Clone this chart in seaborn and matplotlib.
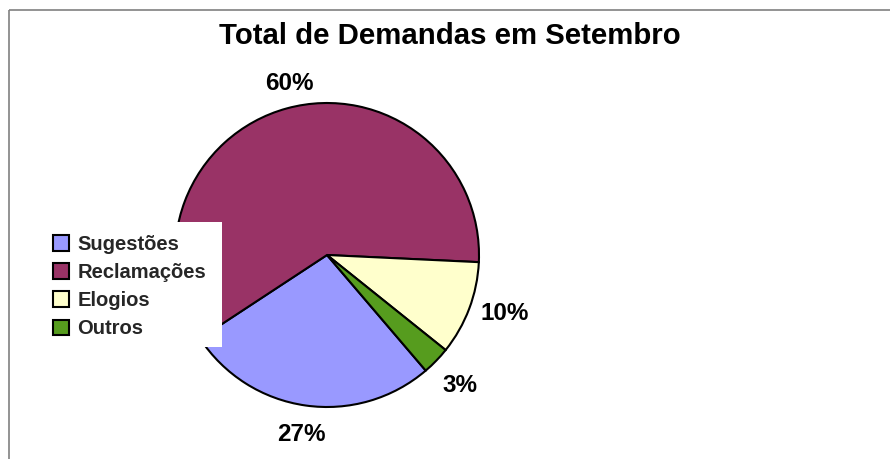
import numpy as np
import matplotlib
matplotlib.use("Agg")
import matplotlib.pyplot as plt
import seaborn as sns
from matplotlib.patches import Rectangle
from matplotlib.lines import Line2D

sns.set_theme(style="white")
plt.rcParams['font.family'] = ['Liberation Sans', 'DejaVu Sans']

categories = ["Sugestões", "Reclamações", "Elogios", "Outros"]
values = [27, 60, 10, 3]
colors = ["#9999FF", "#993366", "#FFFFCC", "#569C1E"]
title = "Total de Demandas em Setembro"

# label placement tuning (radius factor, angle shift in degrees)
label_dist = [1.18, 1.165, 1.23, 1.22]
label_shift = [0, -3, 3, 0]

W, H = 890, 459
fig = plt.figure(figsize=(W / 100, H / 100), dpi=100)
fig.patch.set_facecolor("white")
fig.patch.set_edgecolor("white")
fig.patch.set_linewidth(0)

cx, cy, r = 327, 255, 152
ax = fig.add_axes([(cx - r) / W, (H - cy - r) / H, 2 * r / W, 2 * r / H])
wedges, texts, autotexts = ax.pie(
    values, colors=colors, startangle=-49.5, counterclock=False,
    autopct=lambda p: f"{p:.0f}%", pctdistance=1.2,
    wedgeprops=dict(edgecolor="black", linewidth=1.5),
    textprops=dict(fontsize=17.5, fontweight="bold", color="black"),
)
for w, t, d, s in zip(wedges, autotexts, label_dist, label_shift):
    mid = np.deg2rad((w.theta1 + w.theta2) / 2 + s)
    t.set_position((d * np.cos(mid), d * np.sin(mid) - 0.01))
ax.set_xlim(-1, 1)
ax.set_ylim(-1, 1)
ax.set_aspect("equal")
ax.axis("off")

# chart frame: left and top edges (right/bottom are cut off in the reference)
fig.add_artist(Line2D([8.5 / W, 8.5 / W], [-0.01, 1 - 9.5 / H],
                      transform=fig.transFigure, color="#808080", linewidth=1.2,
                      zorder=0, solid_capstyle="butt", clip_on=False))
fig.add_artist(Line2D([8.5 / W, 1.0], [1 - 9.5 / H, 1 - 9.5 / H],
                      transform=fig.transFigure, color="#808080", linewidth=1.2,
                      zorder=0, solid_capstyle="butt", clip_on=False))

fig.text(450 / W, 1 - 36.5 / H, title, ha="center", va="center",
         fontsize=21.2, fontweight="bold", color="black")

# legend white background
fig.add_artist(Rectangle((20 / W, 1 - 347 / H), (222 - 20) / W, (347 - 222) / H,
                         transform=fig.transFigure, facecolor="white",
                         edgecolor="none", zorder=3))
leg = fig.legend(wedges, categories, loc="upper left",
                 bbox_to_anchor=(43 / W, 1 - 225 / H), frameon=False,
                 prop=dict(size=14.5, weight="bold"),
                 handlelength=0.8, handleheight=0.8, handletextpad=0.4,
                 labelspacing=0.45, borderpad=0)
leg.set_zorder(4)
for h in leg.legend_handles:
    h.set_linewidth(1.5)
    h.set_edgecolor("black")

fig.savefig("out.png", dpi=100, facecolor="white", edgecolor="white")
